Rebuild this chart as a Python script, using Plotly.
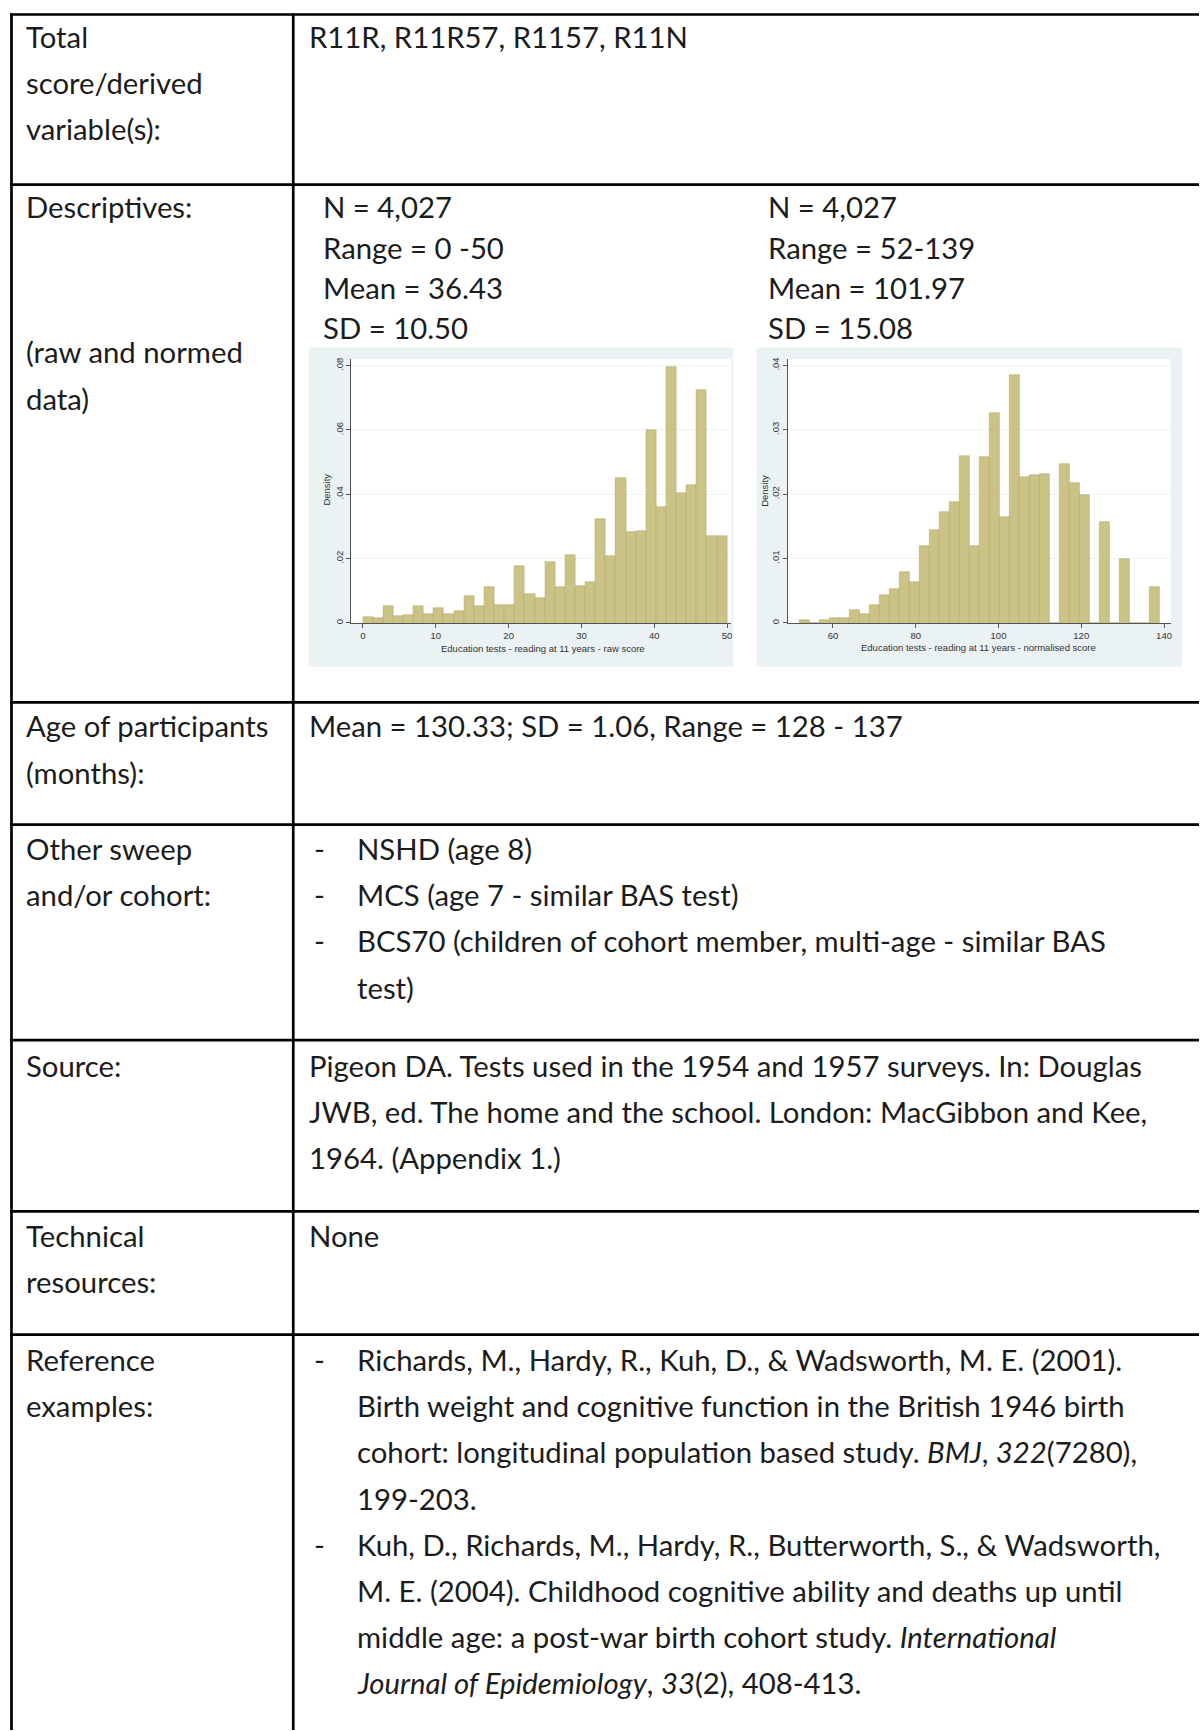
import numpy as np
import plotly.graph_objects as go

# ---------------- data ----------------
raw_min, raw_max = 0, 50
raw_density = [0.0017, 0.0015, 0.0051, 0.0022, 0.0024, 0.0051, 0.0026, 0.0047, 0.0026,
               0.0036, 0.0083, 0.0052, 0.0111, 0.0054, 0.0056, 0.0178, 0.0090, 0.0078,
               0.0189, 0.0110, 0.0210, 0.0114, 0.0128, 0.0323, 0.0209, 0.0449, 0.0282,
               0.0285, 0.0599, 0.0360, 0.0796, 0.0404, 0.0430, 0.0725, 0.0270, 0.0270]
norm_min, norm_max = 52, 139
norm_density = [0.0004, 0.0000, 0.0004, 0.0008, 0.0008, 0.0020, 0.0013, 0.0027, 0.0044,
                0.0052, 0.0079, 0.0063, 0.0120, 0.0144, 0.0172, 0.0187, 0.0259, 0.0119,
                0.0257, 0.0326, 0.0164, 0.0385, 0.0227, 0.0229, 0.0231, 0.0000, 0.0247,
                0.0217, 0.0199, 0.0000, 0.0156, 0.0000, 0.0099, 0.0000, 0.0000, 0.0056]
raw_xticks = [0, 10, 20, 30, 40, 50]
raw_yticks = [0, 0.02, 0.04, 0.06, 0.08]
raw_yticktext = ["0", ".02", ".04", ".06", ".08"]
norm_xticks = [60, 80, 100, 120, 140]
norm_yticks = [0, 0.01, 0.02, 0.03, 0.04]
norm_yticktext = ["0", ".01", ".02", ".03", ".04"]
raw_xtitle = "Education tests - reading at 11 years - raw score"
norm_xtitle = "Education tests - reading at 11 years - normalised score"

row_labels = [
    ["Total", "score/derived", "variable(s):"],
    ["Descriptives:"],
    ["Age of participants", "(months):"],
    ["Other sweep", "and/or cohort:"],
    ["Source:"],
    ["Technical", "resources:"],
    ["Reference", "examples:"],
]
row1_text = ["R11R, R11R57, R1157, R11N"]
desc_raw = ["N = 4,027", "Range = 0 -50", "Mean = 36.43", "SD = 10.50"]
desc_norm = ["N = 4,027", "Range = 52-139", "Mean = 101.97", "SD = 15.08"]
desc_note = ["(raw and normed", "data)"]
age_text = ["Mean = 130.33; SD = 1.06, Range = 128 - 137"]
sweep_text = ["NSHD (age 8)", "MCS (age 7 - similar BAS test)",
              "BCS70 (children of cohort member, multi-age - similar BAS", "test)"]
sweep_bullets = [True, True, True, False]
source_text = ["Pigeon DA. Tests used in the 1954 and 1957 surveys. In: Douglas",
               "JWB, ed. The home and the school. London: MacGibbon and Kee,",
               "1964. (Appendix 1.)"]
tech_text = ["None"]
ref_text = ["Richards, M., Hardy, R., Kuh, D., & Wadsworth, M. E. (2001).",
            "Birth weight and cognitive function in the British 1946 birth",
            "cohort: longitudinal population based study. <i>BMJ</i>, <i>322</i>(7280),",
            "199-203.",
            "Kuh, D., Richards, M., Hardy, R., Butterworth, S., & Wadsworth,",
            "M. E. (2004). Childhood cognitive ability and deaths up until",
            "middle age: a post-war birth cohort study. <i>International</i>",
            "<i>Journal of Epidemiology</i>, <i>33</i>(2), 408-413."]
ref_bullets = [True, False, False, False, True, False, False, False]

# ---------------- layout helpers ----------------
W, H = 1200, 1731
def px(x):
    return x / W
def py(y):
    return 1 - y / H

TXT_FONT = dict(family="Lato, 'Source Sans Pro', sans-serif", size=29.3, color="#1c1c1c")
HIST_FONT = dict(family="Liberation Sans, Arial, sans-serif", size=9.5, color="#333333")
LS = 46.2
BAR_COLOR = "rgb(203,195,134)"
BAR_LINE = "rgb(178,170,108)"
BG_COLOR = "#EAF2F3"

fig = go.Figure()

def hist_trace(dens, lo, hi, xa, ya):
    n = len(dens)
    edges = np.linspace(lo, hi, n + 1)
    centers = (edges[:-1] + edges[1:]) / 2
    width = (hi - lo) / n
    return go.Bar(x=centers, y=dens, width=width, marker=dict(color=BAR_COLOR,
                  line=dict(color=BAR_LINE, width=0.6)), xaxis=xa, yaxis=ya,
                  showlegend=False, hoverinfo="x+y")

fig.add_trace(hist_trace(raw_density, raw_min, raw_max, "x", "y"))
fig.add_trace(hist_trace(norm_density, norm_min, norm_max, "x2", "y2"))

axis_common = dict(showline=True, linecolor="#555555", linewidth=1, ticks="outside",
                   ticklen=4, tickcolor="#555555", tickwidth=1, tickfont=HIST_FONT,
                   zeroline=False)
# plot areas (pixels)
L_plot = (351.7, 732.0, 357.7, 622.0)
R_plot = (788.3, 1171.7, 357.7, 622.0)

fig.update_layout(
    xaxis=dict(domain=[px(L_plot[0]), px(L_plot[1])], range=[-1.59, 50.59],
               tickvals=raw_xticks, showgrid=False, anchor="y", **axis_common),
    yaxis=dict(domain=[py(L_plot[3]), py(L_plot[2])], range=[0, 0.08205],
               tickvals=raw_yticks, ticktext=raw_yticktext, tickangle=-90,
               showgrid=True, gridcolor=BG_COLOR, gridwidth=1, anchor="x", **axis_common),
    xaxis2=dict(domain=[px(R_plot[0]), px(R_plot[1])], range=[49.04, 141.62],
                tickvals=norm_xticks, showgrid=False, anchor="y2", **axis_common),
    yaxis2=dict(domain=[py(R_plot[3]), py(R_plot[2])], range=[0, 0.04098],
                tickvals=norm_yticks, ticktext=norm_yticktext, tickangle=-90,
                showgrid=True, gridcolor=BG_COLOR, gridwidth=1, anchor="x2", **axis_common),
)

shapes = []
# graph region backgrounds and white plot regions
for (x0, x1, y0, y1), plot in [((309, 734, 346, 666), L_plot), ((757, 1183, 346, 666), R_plot)]:
    shapes.append(dict(type="rect", xref="paper", yref="paper", x0=px(x0), x1=px(x1),
                       y0=py(y1), y1=py(y0), fillcolor=BG_COLOR, line=dict(width=0), layer="below"))
    shapes.append(dict(type="rect", xref="paper", yref="paper", x0=px(plot[0]), x1=px(plot[1]),
                       y0=py(plot[3]), y1=py(plot[2]), fillcolor="white", line=dict(width=0), layer="below"))

# table lines
LW = 2.7
h_lines = [12.5, 183, 701.5, 824, 1040, 1211.5, 1335]
for y in h_lines:
    shapes.append(dict(type="line", xref="paper", yref="paper", x0=px(10.2), x1=px(1200),
                       y0=py(y), y1=py(y), line=dict(color="black", width=LW)))
for x in [11.5, 293.5]:
    shapes.append(dict(type="line", xref="paper", yref="paper", x0=px(x), x1=px(x),
                       y0=py(11.2), y1=py(1731), line=dict(color="black", width=LW)))

annotations = []
def add_text(x, y, text, font=TXT_FONT, **kw):
    annotations.append(dict(x=px(x), y=py(y), xref="paper", yref="paper", text=text,
                            showarrow=False, xanchor="left", yanchor="middle", font=font, **kw))

# left column labels
row_first = [34.4, 204.6, 725.2, 848.2, 1065.3, 1236.0, 1360]
LEFT_X = 24.5
for lines, y0 in zip(row_labels, row_first):
    for i, t in enumerate(lines):
        add_text(LEFT_X, y0 + i * LS, t)
for i, t in enumerate(desc_note):
    add_text(LEFT_X, 350.5 + i * LS, t)

RIGHT_X = 307
BUL_X = 312
IND_X = 355
add_text(RIGHT_X, row_first[0], row1_text[0])
desc_y = [204.6, 245.5, 286.3, 326.5]
for t, y in zip(desc_raw, desc_y):
    add_text(321.5, y, t)
for t, y in zip(desc_norm, desc_y):
    add_text(766.4, y, t)
add_text(RIGHT_X, row_first[2], age_text[0])
for i, (t, b) in enumerate(zip(sweep_text, sweep_bullets)):
    y = row_first[3] + i * LS
    if b:
        add_text(BUL_X, y, "-")
    add_text(IND_X, y, t)
for i, t in enumerate(source_text):
    add_text(RIGHT_X, row_first[4] + i * LS, t)
add_text(RIGHT_X, row_first[5], tech_text[0])
for i, (t, b) in enumerate(zip(ref_text, ref_bullets)):
    y = row_first[6] + i * LS
    if b:
        add_text(BUL_X, y, "-")
    add_text(IND_X, y, t)

# histogram axis titles
TITLE_FONT = dict(family="Liberation Sans, Arial, sans-serif", size=9.5, color="#333333")
for x, y in [(326.7, 488), (764.3, 490)]:
    annotations.append(dict(x=px(x), y=py(y), xref="paper", yref="paper", text="Density",
                            showarrow=False, textangle=-90, xanchor="center", yanchor="middle",
                            font=TITLE_FONT))
for x, y, t in [(543, 647.7, raw_xtitle), (979, 646.7, norm_xtitle)]:
    annotations.append(dict(x=px(x), y=py(y), xref="paper", yref="paper", text=t,
                            showarrow=False, xanchor="center", yanchor="middle", font=TITLE_FONT))

fig.update_layout(width=W, height=H, margin=dict(l=0, r=0, t=0, b=0),
                  paper_bgcolor="white", plot_bgcolor="white", shapes=shapes,
                  annotations=annotations, bargap=0, showlegend=False)

fig.write_html("out.html", config={"displayModeBar": False},
               post_script="document.body.style.margin='0';")
